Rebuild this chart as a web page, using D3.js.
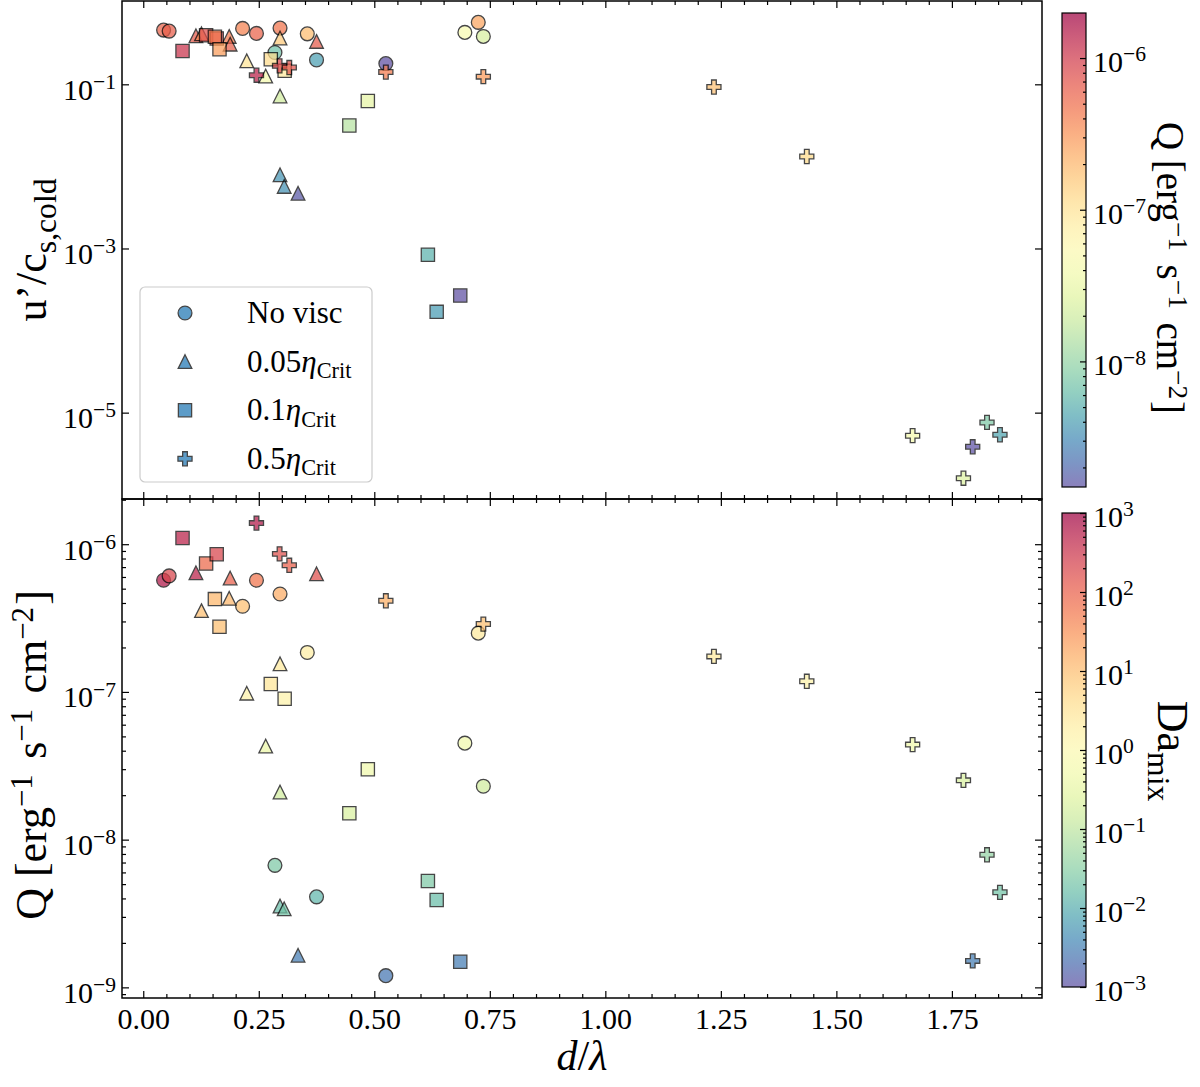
<!DOCTYPE html>
<meta charset="utf-8">
<script src="https://d3js.org/d3.v7.min.js"></script>
<style>
  body { margin: 0; background: #fff; }
  text { font-family: "Liberation Serif", "DejaVu Serif", serif; }
</style>
<svg id="chart" width="1200" height="1087"></svg>
<script>

// ---- data ----
// No viscosity (circles)
const dNoVisc  = [0.044, 0.056, 0.215, 0.245, 0.296, 0.355, 0.285, 0.375, 0.525, 0.696, 0.725, 0.736];
const uNoVisc  = [0.458, 0.445, 0.48, 0.417, 0.484, 0.412, 0.244, 0.198, 0.179, 0.429, 0.569, 0.383];
const qNoVisc  = [5.7e-7, 6.1e-7, 3.8e-7, 5.7e-7, 4.6e-7, 1.85e-7, 6.7e-9, 4.1e-9, 1.2e-9, 4.5e-8, 2.5e-7, 2.3e-8];
const daNoVisc = [630, 200, 10, 60, 16, 2, 0.025, 0.013, 0.0025, 0.5, 2.5, 0.16];

// 0.05 eta_crit (triangles)
const dVisc005  = [0.114, 0.126, 0.186, 0.188, 0.375, 0.296, 0.296, 0.296, 0.224, 0.265, 0.305, 0.335];
const uVisc005  = [0.390, 0.412, 0.383, 0.308, 0.333, 0.366, 0.072, 0.0079, 0.193, 0.126, 0.0057, 0.0047];
const qVisc005  = [6.4e-7, 3.55e-7, 4.3e-7, 5.9e-7, 6.3e-7, 1.55e-7, 2.1e-8, 3.55e-9, 9.8e-8, 4.3e-8, 3.4e-9, 1.65e-9];
const daVisc005 = [500, 10, 12, 100, 160, 2.5, 0.16, 0.016, 1.6, 0.4, 0.02, 0.003];

// 0.1 eta_crit (squares)
const dVisc01  = [0.085, 0.136, 0.159, 0.155, 0.165, 0.276, 0.306, 0.486, 0.446, 0.616, 0.635, 0.686];
const uVisc01  = [0.255, 0.397, 0.362, 0.379, 0.268, 0.202, 0.146, 0.0625, 0.0315, 8.4e-4, 1.69e-4, 2.67e-4];
const qVisc01  = [1.1e-6, 7.4e-7, 8.55e-7, 4.25e-7, 2.76e-7, 1.13e-7, 9.0e-8, 3.0e-8, 1.51e-8, 5.25e-9, 3.9e-9, 1.49e-9];
const daVisc01 = [500, 80, 200, 12, 10, 3, 1.6, 0.5, 0.2, 0.025, 0.016, 0.003];

// 0.5 eta_crit (plus markers)
const dVisc05  = [0.245, 0.295, 0.316, 0.525, 0.736, 1.235, 1.436, 1.665, 1.775, 1.826, 1.854, 1.795];
const uVisc05  = [0.129, 0.168, 0.160, 0.141, 0.124, 0.0927, 0.0132, 5.24e-6, 1.59e-6, 7.6e-6, 5.38e-6, 3.84e-6];
const qVisc05  = [1.39e-6, 8.6e-7, 7.2e-7, 4.14e-7, 2.88e-7, 1.74e-7, 1.18e-7, 4.4e-8, 2.52e-8, 7.9e-9, 4.4e-9, 1.51e-9];
const daVisc05 = [600, 150, 100, 15, 10, 2.5, 1.6, 0.5, 0.2, 0.04, 0.02, 0.003];

// ticks
const xTicks = [0, 0.25, 0.5, 0.75, 1.0, 1.25, 1.5, 1.75];
const uTicks = [1e-1, 1e-3, 1e-5];
const qTicks = [1e-6, 1e-7, 1e-8, 1e-9];
const qBarTicks = [1e-6, 1e-7, 1e-8];
const daTicks = [1e-3, 1e-2, 1e-1, 1e0, 1e1, 1e2, 1e3];

// ---- layout ----
const svg = d3.select("#chart");
const pLeft = 122, pRight = 1042, pTop = 1, pMid = 499, pBottom = 998;
const cbX0 = 1062, cbX1 = 1086;
const tickFont = 30, titleFont = 44;

const x = d3.scaleLinear().domain([-0.046, 1.945]).range([pLeft, pRight]);
const yTop = d3.scaleLog().domain([Math.pow(10, -6.052), Math.pow(10, 0.015)]).range([pMid, pTop]);
const yBot = d3.scaleLog().domain([Math.pow(10, -9.072), Math.pow(10, -5.694)]).range([pBottom, pMid]);
const qBar = d3.scaleLog().domain([Math.pow(10, -8.828), Math.pow(10, -5.703)]).range([487, 13]);
const daBar = d3.scaleLog().domain([1e-3, 1e3]).range([987, 513]);

const tQ = d3.scaleLog().domain(qBar.domain()).range([0, 1]).clamp(true);
const tDa = d3.scaleLog().domain(daBar.domain()).range([0, 1]).clamp(true);
const colQ = v => d3.interpolateSpectral(1 - tQ(v));
const colDa = v => d3.interpolateSpectral(1 - tDa(v));

// matplotlib-like '^' (isosceles, width = height)
const triUp = {
  draw(ctx, size) {
    const r = Math.sqrt(size) / 2;
    ctx.moveTo(0, -r); ctx.lineTo(r, r); ctx.lineTo(-r, r); ctx.closePath();
  }
};

const series = [
  { name: "No visc", d: dNoVisc, u: uNoVisc, q: qNoVisc, da: daNoVisc, sym: d3.symbolCircle, size: 150 },
  { name: "0.05", d: dVisc005, u: uVisc005, q: qVisc005, da: daVisc005, sym: triUp, size: 185 },
  { name: "0.1", d: dVisc01, u: uVisc01, q: qVisc01, da: daVisc01, sym: d3.symbolSquare, size: 175 },
  { name: "0.5", d: dVisc05, u: uVisc05, q: qVisc05, da: daVisc05, sym: d3.symbolCross, size: 110 }
];

// ---- helpers ----
function minorLog(lo, hi) {
  const out = [];
  for (let e = Math.floor(Math.log10(lo)) - 1; e <= Math.ceil(Math.log10(hi)); e++) {
    for (let k = 2; k <= 9; k++) {
      const v = k * Math.pow(10, e);
      if (v >= lo && v <= hi) out.push(v);
    }
  }
  return out;
}

function styleAxis(g) {
  g.select(".domain").remove();
  g.selectAll(".tick line").attr("stroke", "#000").attr("stroke-width", 1.2);
  g.attr("font-family", null).attr("font-size", tickFont);
  g.selectAll(".tick text").attr("fill", "#000");
}

function powLabels(g, dy) {
  g.selectAll(".tick text").each(function (d) {
    const t = d3.select(this).text(null).attr("dy", dy);
    const e = Math.round(Math.log10(d));
    t.append("tspan").text("10");
    t.append("tspan").attr("dy", "-0.5em").attr("font-size", "0.72em")
      .text(String(e).replace("-", "\u2212"));
  });
}

function drawMarkers(g, yScale, yKey, colorFn, cKey) {
  series.forEach(s => {
    const pts = s.d.map((dv, i) => ({ d: dv, y: s[yKey][i], c: s[cKey][i] }));
    g.append("g").selectAll("path")
      .data(pts)
      .join("path")
      .attr("d", d3.symbol(s.sym, s.size))
      .attr("transform", p => `translate(${x(p.d)},${yScale(p.y)})`)
      .attr("fill", p => colorFn(p.c))
      .attr("stroke", "#000")
      .attr("stroke-width", 1.3)
      .attr("opacity", 0.72);
  });
}

const xMinor = d3.range(0, 1.95, 0.05).filter(v => Math.abs(v / 0.25 - Math.round(v / 0.25)) > 1e-6);

function xAxes(yTopEdge, yBotEdge, labels) {
  svg.append("g").attr("transform", `translate(0,${yTopEdge})`)
    .call(d3.axisTop(x).tickValues(xTicks).tickSize(-7).tickFormat("")).call(styleAxis);
  svg.append("g").attr("transform", `translate(0,${yTopEdge})`)
    .call(d3.axisTop(x).tickValues(xMinor).tickSize(-4).tickFormat("")).call(styleAxis);
  svg.append("g").attr("transform", `translate(0,${yBotEdge})`)
    .call(d3.axisBottom(x).tickValues(xTicks).tickSize(-7).tickPadding(10)
      .tickFormat(labels ? d3.format(".2f") : "")).call(styleAxis);
  svg.append("g").attr("transform", `translate(0,${yBotEdge})`)
    .call(d3.axisBottom(x).tickValues(xMinor).tickSize(-4).tickFormat("")).call(styleAxis);
}

function yAxes(yScale, major, minor) {
  const gl = svg.append("g").attr("transform", `translate(${pLeft},0)`)
    .call(d3.axisLeft(yScale).tickValues(major).tickSize(-7).tickPadding(6)).call(styleAxis);
  powLabels(gl, "0.5em");
  svg.append("g").attr("transform", `translate(${pRight},0)`)
    .call(d3.axisRight(yScale).tickValues(major).tickSize(-7).tickFormat("")).call(styleAxis);
  if (minor.length) {
    svg.append("g").attr("transform", `translate(${pLeft},0)`)
      .call(d3.axisLeft(yScale).tickValues(minor).tickSize(-4).tickFormat("")).call(styleAxis);
    svg.append("g").attr("transform", `translate(${pRight},0)`)
      .call(d3.axisRight(yScale).tickValues(minor).tickSize(-4).tickFormat("")).call(styleAxis);
  }
}

// ---- top panel: u'/c_s,cold coloured by Q ----
drawMarkers(svg.append("g"), yTop, "u", colQ, "q");
xAxes(pTop, pMid, false);
yAxes(yTop, uTicks, []);

// ---- bottom panel: Q coloured by Da_mix ----
drawMarkers(svg.append("g"), yBot, "q", colDa, "da");
xAxes(pMid, pBottom, true);
yAxes(yBot, qTicks, minorLog(yBot.domain()[0], yBot.domain()[1]));

// frames
svg.append("rect").attr("x", pLeft).attr("y", pTop).attr("width", pRight - pLeft).attr("height", pMid - pTop)
  .attr("fill", "none").attr("stroke", "#000").attr("stroke-width", 1.5);
svg.append("rect").attr("x", pLeft).attr("y", pMid).attr("width", pRight - pLeft).attr("height", pBottom - pMid)
  .attr("fill", "none").attr("stroke", "#000").attr("stroke-width", 1.5);

// ---- legend ----
const leg = svg.append("g");
leg.append("rect").attr("x", 140).attr("y", 287).attr("width", 232).attr("height", 195)
  .attr("rx", 5).attr("fill", "#fff").attr("fill-opacity", 0.8)
  .attr("stroke", "#ccc").attr("stroke-width", 1.2);
series.forEach((s, i) => {
  const cy = 313 + i * 48.6;
  leg.append("path").attr("d", d3.symbol(s.sym, s.size))
    .attr("transform", `translate(185,${cy})`)
    .attr("fill", "#1f77b4").attr("stroke", "#000").attr("stroke-width", 1.3).attr("opacity", 0.72);
  const t = leg.append("text").attr("x", 247).attr("y", cy + 10).attr("font-size", 31);
  if (i === 0) {
    t.text(s.name);
  } else {
    t.append("tspan").text(s.name);
    t.append("tspan").attr("font-style", "italic").text("\u03b7");
    t.append("tspan").attr("font-size", "0.72em").attr("dy", "0.3em").text("Crit");
  }
});

// ---- colorbars ----
const defs = svg.append("defs");
const grad = defs.append("linearGradient").attr("id", "spec").attr("x1", 0).attr("y1", 0).attr("x2", 0).attr("y2", 1);
d3.range(0, 1.0001, 0.05).forEach(t => grad.append("stop").attr("offset", t).attr("stop-color", d3.interpolateSpectral(t)));

function colorbar(scale, major) {
  const [y1, y0] = scale.range();
  svg.append("rect").attr("x", cbX0).attr("y", y0).attr("width", cbX1 - cbX0).attr("height", y1 - y0)
    .attr("fill", "url(#spec)").attr("opacity", 0.72);
  const ga = svg.append("g").attr("transform", `translate(${cbX1},0)`)
    .call(d3.axisRight(scale).tickValues(major).tickSize(-6).tickPadding(7)).call(styleAxis);
  powLabels(ga, "0.45em");
  svg.append("g").attr("transform", `translate(${cbX1},0)`)
    .call(d3.axisRight(scale).tickValues(minorLog(scale.domain()[0], scale.domain()[1])).tickSize(-3).tickFormat(""))
    .call(styleAxis);
  svg.append("rect").attr("x", cbX0).attr("y", y0).attr("width", cbX1 - cbX0).attr("height", y1 - y0)
    .attr("fill", "none").attr("stroke", "#000").attr("stroke-width", 1.2);
}

function qUnits(t) {
  const sup = s => t.append("tspan").attr("font-size", "0.7em").attr("dy", "-0.45em").text(s);
  t.append("tspan").text("Q [erg");
  sup("\u22121");
  t.append("tspan").attr("dy", "0.32em").attr("dx", "0.35em").text("s");
  sup("\u22121");
  t.append("tspan").attr("dy", "0.32em").attr("dx", "0.35em").text("cm");
  sup("\u22122");
  t.append("tspan").attr("dy", "0.32em").attr("dx", "0.05em").text("]");
}

colorbar(qBar, qBarTicks);
const cbq = svg.append("text").attr("transform", "translate(1157,268) rotate(90)")
  .attr("text-anchor", "middle").attr("font-size", 39);
qUnits(cbq);

colorbar(daBar, daTicks);
const cbd = svg.append("text").attr("transform", "translate(1158,751) rotate(90)")
  .attr("text-anchor", "middle").attr("font-size", titleFont);
cbd.append("tspan").text("Da");
cbd.append("tspan").attr("font-size", "0.72em").attr("dy", "0.3em").text("mix");

// ---- axis titles ----
const xl = svg.append("text").attr("x", (pLeft + pRight) / 2).attr("y", 1070)
  .attr("text-anchor", "middle").attr("font-size", 42);
xl.append("tspan").attr("font-style", "italic").text("d");
xl.append("tspan").text("/");
xl.append("tspan").attr("font-style", "italic").text("\u03bb");

const yl1 = svg.append("text").attr("transform", `translate(46,${(pTop + pMid) / 2}) rotate(-90)`)
  .attr("text-anchor", "middle").attr("font-size", titleFont);
yl1.append("tspan").text("u\u2019/c");
yl1.append("tspan").attr("font-size", "0.72em").attr("dy", "0.3em").text("s,cold");

const yl2 = svg.append("text").attr("transform", `translate(46,755) rotate(-90)`)
  .attr("text-anchor", "middle").attr("font-size", titleFont);
qUnits(yl2);

</script>
